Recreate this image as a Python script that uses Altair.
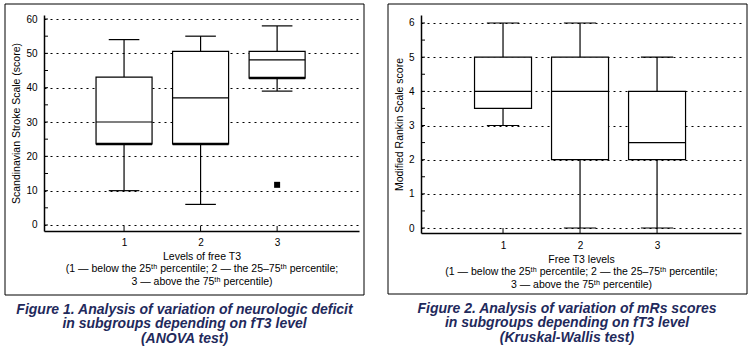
import altair as alt
import pandas as pd

FONT = "Liberation Sans"
CAP_COLOR = "#1f2a5c"

# ---- data -----------------------------------------------------------------
groups = [1, 2, 3]

# Figure 1: Scandinavian Stroke Scale
sss_lower = [10, 6.0, 39]
sss_q1 = [23.6, 23.6, 42.8]
sss_median = [30, 37, 48.1]
sss_q3 = [43.1, 50.6, 50.6]
sss_upper = [54, 55, 58]
sss_out_group = [3]
sss_out_value = [11.7]
sss_grid = [0, 10, 20, 30, 40, 50, 60]
sss_ticks = [0, 5, 10, 15, 20, 25, 30, 35, 40, 45, 50, 55, 60]

# Figure 2: Modified Rankin Scale
mrs_lower = [3, 0, 0]
mrs_q1 = [3.5, 2, 2]
mrs_median = [4, 4, 2.5]
mrs_q3 = [5, 5, 4]
mrs_upper = [6, 6, 5]
mrs_grid = [0, 1, 2, 3, 4, 5, 6]
mrs_ticks = [0, 0.5, 1, 1.5, 2, 2.5, 3, 3.5, 4, 4.5, 5, 5.5, 6]

sup = "\u1d57\u02b0"
x_note = [
    "(1 \u2014 below the 25" + sup + " percentile; 2 \u2014 the 25\u201375" + sup + " percentile;",
    "3 \u2014 above the 75" + sup + " percentile)",
]
cap1 = ["Figure 1. Analysis of variation of neurologic deficit",
        "in subgroups depending on fT3 level", "(ANOVA test)"]
cap2 = ["Figure 2. Analysis of variation of mRs scores",
        "in subgroups depending on fT3 level", "(Kruskal-Wallis test)"]


def panel(lower, q1, med, q3, upper, grid, ticks, xdom, ydom, w, h,
          xtitle, ytitle, caption, box_half, cap_half, frame, cap_dx,
          thick_q1=False, out_g=None, out_v=None, ylabpad=7, ytitlepad=4,
          xlabpad=5):
    df = pd.DataFrame({"g": groups, "lower": lower, "q1": q1, "median": med,
                       "q3": q3, "upper": upper})
    df["bl"] = df["g"] - box_half
    df["br"] = df["g"] + box_half
    df["cl"] = df["g"] - cap_half
    df["cr"] = df["g"] + cap_half

    xs = alt.Scale(domain=xdom, nice=False, zero=False)
    ys = alt.Scale(domain=ydom, nice=False, zero=False)
    xax = alt.Axis(values=groups, format="d", grid=False, tickSize=0,
                   domainWidth=1.5, domainColor="black", labelFont=FONT,
                   labelFontSize=10, labelColor="black", labelPadding=xlabpad,
                   title=xtitle, titleFont=FONT, titleFontSize=10.5,
                   titleFontWeight="normal", titleColor="black",
                   titleLineHeight=12.5, titlePadding=4)
    yax = alt.Axis(values=grid, format="d", grid=True, gridColor="black",
                   gridDash=[2, 4], gridWidth=1, tickSize=0, domainWidth=1.5,
                   domainColor="black", labelFont=FONT, labelFontSize=10,
                   labelColor="black", labelOverlap=False,
                   labelPadding=ylabpad, title=ytitle, titleFont=FONT,
                   titleFontSize=10.5, titleFontWeight="normal",
                   titleColor="black", titlePadding=ytitlepad)

    def X(f):
        return alt.X(f, scale=xs, axis=xax)

    def Y(f):
        return alt.Y(f, scale=ys, axis=yax)

    base = alt.Chart(df)

    whisk = base.mark_rule(color="black", strokeWidth=1.2).encode(
        x=X("g:Q"), y=Y("lower:Q"), y2="upper:Q")
    box = base.mark_rect(fill="white", stroke="black", strokeWidth=1.2).encode(
        x=X("bl:Q"), x2="br:Q", y=Y("q1:Q"), y2="q3:Q")
    median = base.mark_rule(color="black", strokeWidth=1.2).encode(
        x=X("bl:Q"), x2="br:Q", y=Y("median:Q"))
    cap_lo = base.mark_rule(color="black", strokeWidth=1.2).encode(
        x=X("cl:Q"), x2="cr:Q", y=Y("lower:Q"))
    cap_hi = base.mark_rule(color="black", strokeWidth=1.2).encode(
        x=X("cl:Q"), x2="cr:Q", y=Y("upper:Q"))

    tick_df = pd.DataFrame({"t": ticks})
    yt = alt.Chart(tick_df).mark_rule(color="black", strokeWidth=1).encode(
        y=Y("t:Q"), x=alt.value(0), x2=alt.value(4))
    xt = alt.Chart(pd.DataFrame({"g": groups})).mark_rule(
        color="black", strokeWidth=1).encode(
        x=X("g:Q"), y=alt.value(h), y2=alt.value(h - 5))

    border = alt.Chart(pd.DataFrame({"k": [0]})).mark_rect(
        filled=False, stroke="black", strokeWidth=1).encode(
        x=alt.value(frame[0]), x2=alt.value(frame[1]),
        y=alt.value(frame[2]), y2=alt.value(frame[3]))

    layers = [border, whisk, box, median, cap_lo, cap_hi]
    if thick_q1:
        layers.append(base.mark_rule(color="black", strokeWidth=2.6).encode(
            x=X("bl:Q"), x2="br:Q", y=Y("q1:Q")))
    if out_g is not None:
        odf = pd.DataFrame({"g": out_g, "v": out_v})
        layers.append(alt.Chart(odf).mark_square(
            color="black", size=36, opacity=1).encode(x=X("g:Q"), y=Y("v:Q")))
    layers += [yt, xt]

    return alt.layer(*layers).properties(
        width=w, height=h,
        title=alt.TitleParams(text=caption, orient="bottom", anchor="middle",
                              font=FONT, fontSize=14, fontStyle="italic",
                              fontWeight="bold", color=CAP_COLOR,
                              lineHeight=14.5, offset=7, dx=cap_dx))


left = panel(sss_lower, sss_q1, sss_median, sss_q3, sss_upper, sss_grid,
             sss_ticks, [-0.046, 4.07], [-1.75, 61.17], 315, 216,
             ["Levels of free T3"] + x_note,
             "Scandinavian Stroke Scale (score)", cap1, 0.366, 0.2,
             (-39, 320, -11, 280), -17, thick_q1=True,
             out_g=sss_out_group, out_v=sss_out_value,
             ylabpad=7, ytitlepad=4, xlabpad=6)

right = panel(mrs_lower, mrs_q1, mrs_median, mrs_q3, mrs_upper, mrs_grid,
              mrs_ticks, [-0.065, 4.09], [-0.146, 6.234], 320, 218,
              ["Free T3 levels"] + x_note,
              "Modified Rankin Scale score", cap2, 0.37, 0.21,
              (-33, 326, -11, 279), -14, ylabpad=7, ytitlepad=4, xlabpad=7)

chart = alt.hconcat(left, right, spacing=22).properties(
    padding={"left": 4, "top": 3, "right": 0, "bottom": 0},
    background="white",
).configure_view(stroke=None)

chart.save("out.html", embed_options={"renderer": "svg", "actions": False})
